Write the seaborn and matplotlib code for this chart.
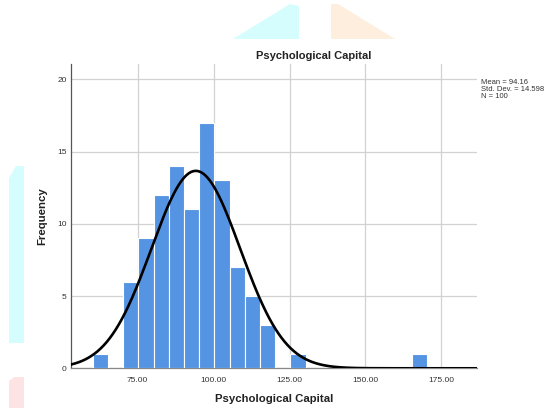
import numpy as np
import pandas as pd
import matplotlib
matplotlib.use("Agg")
import matplotlib.pyplot as plt
from matplotlib.patches import Polygon
import seaborn as sns

# Histogram of Psychological Capital scores (binned frequencies)
bin_start = 60.3
bin_width = 5.0
counts = [1, 0, 6, 9, 12, 14, 11, 17, 13, 7, 5, 3, 0, 1,
          0, 0, 0, 0, 0, 0, 0, 1]
mean_val = 94.16
std_val = 14.598
n_val = 100
x_ticks = [75, 100, 125, 150, 175]
y_ticks = [0, 5, 10, 15, 20]

edges = bin_start + bin_width * np.arange(len(counts) + 1)
centers = (edges[:-1] + edges[1:]) / 2
df = pd.DataFrame({"score": centers, "count": counts})

sns.set_theme(style="white")
plt.rcParams["font.family"] = ["Liberation Sans", "DejaVu Sans"]

fig = plt.figure(figsize=(5.44, 4.08), dpi=100)
ax = fig.add_axes([71 / 544, 1 - 368.3 / 408, 405.7 / 544, 304.3 / 408])

# faint background shapes
shapes = [
    ([(233, 39), (290, 4), (299, 6), (299, 39)], "#d6fdfd"),
    ([(331, 39), (331, 4), (338, 4), (395, 39)], "#fdeedd"),
    ([(9, 343), (9, 178), (16, 166), (24, 166), (24, 343)], "#d6fdfd"),
    ([(9, 408), (9, 381), (14, 377), (24, 377), (24, 408)], "#fde3e3"),
]
for pts, col in shapes:
    fig.patches.append(Polygon([(x / 544, 1 - y / 408) for x, y in pts],
                               closed=True, transform=fig.transFigure,
                               facecolor=col, edgecolor="none", zorder=0))

sns.histplot(data=df, x="score", weights="count", binwidth=bin_width,
             binrange=(float(edges[0]), float(edges[-1])), ax=ax,
             color="#5594e3", alpha=1.0, edgecolor="white", linewidth=0.8,
             zorder=3)

x_lo, x_hi = 53.1, 186.6
# fitted normal curve scaled to the histogram
xs = np.linspace(x_lo, x_hi, 400)
ys = n_val * bin_width / (std_val * np.sqrt(2 * np.pi)) * \
    np.exp(-0.5 * ((xs - mean_val) / std_val) ** 2)
sns.lineplot(x=xs, y=ys, ax=ax, color="black", linewidth=1.9, zorder=4)

ax.set_xlim(x_lo, x_hi)
ax.set_ylim(0, 21.06)
ax.set_xticks(x_ticks)
ax.set_xticklabels([f"{v:.2f}" for v in x_ticks])
ax.set_yticks(y_ticks)
ax.grid(True, color="#d2d2d2", linewidth=0.9, zorder=0)
ax.set_axisbelow(True)
ax.tick_params(axis="both", length=0, labelsize=6, colors="#333333", pad=3)
ax.tick_params(axis="x", pad=6)
for side in ["top", "right"]:
    ax.spines[side].set_visible(False)
ax.spines["left"].set_color("#555555")
ax.spines["left"].set_linewidth(0.9)
ax.spines["bottom"].set_color("#888888")
ax.spines["bottom"].set_linewidth(0.9)

ax.set_xlabel("Psychological Capital", fontsize=8.2, fontweight="bold",
              color="#222222")
ax.xaxis.set_label_coords(0.5, -0.101)
ax.xaxis.label.set_va("center")
ax.set_ylabel("Frequency", fontsize=8.2, fontweight="bold", color="#222222")
ax.yaxis.set_label_coords(-0.0698, 0.5)
ax.yaxis.label.set_va("center")
fig.text(313.7 / 544, 1 - 56 / 408, "Psychological Capital", fontsize=8,
         fontweight="bold", color="#222222", ha="center", va="center")
fig.text(481 / 544, 1 - 79 / 408,
         f"Mean = {mean_val:.2f}\nStd. Dev. = {std_val:.3f}\nN = {n_val}",
         fontsize=5.5, color="#333333", ha="left", va="top", linespacing=1.05)

fig.savefig("out.png", dpi=100)
